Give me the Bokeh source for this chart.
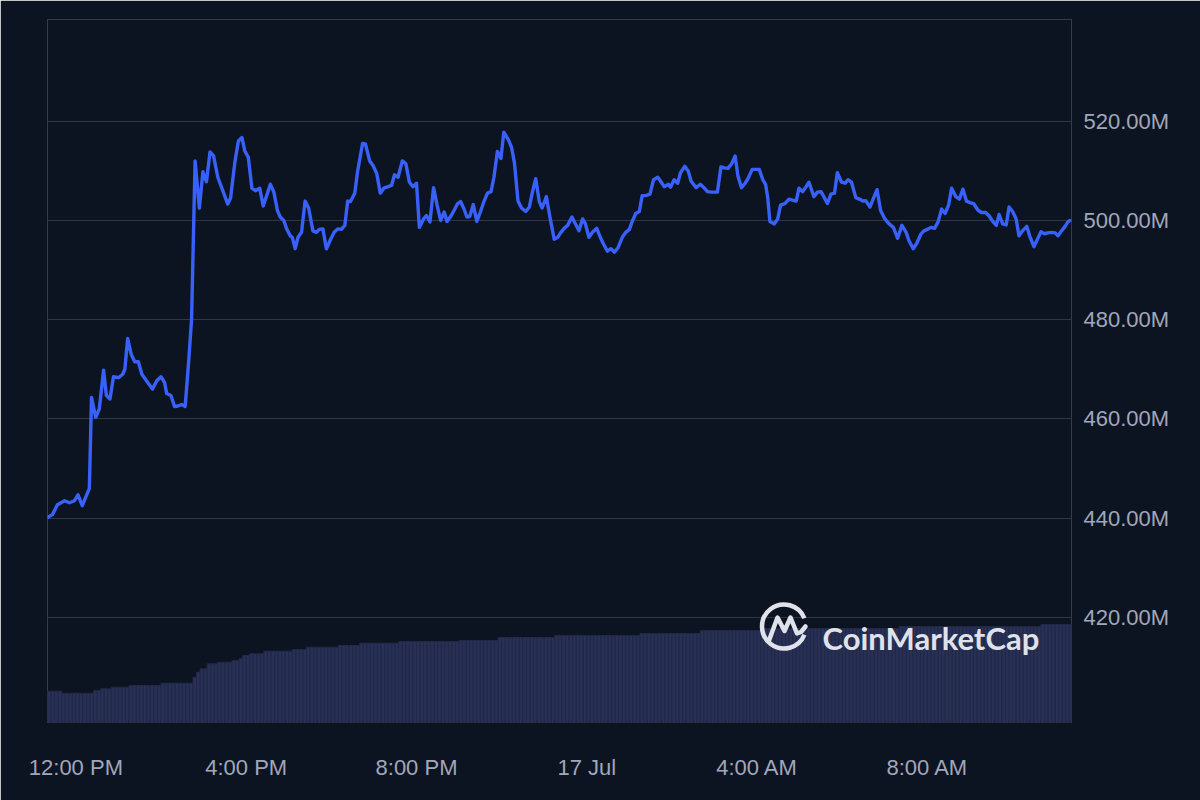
from datetime import datetime, timedelta
import math
from bokeh.plotting import figure
from bokeh.models import Range1d, FixedTicker, PrintfTickFormatter, Label
from bokeh.embed import file_html
from bokeh.resources import INLINE

# ---------------- data ----------------
START = datetime(2024, 7, 16, 11, 20)

# minutes after START, market cap in millions USD
t_min = [0, 2, 7, 14, 24, 31, 38, 43, 49, 59, 62, 68, 73, 79, 83, 88, 93, 100, 106, 109,
         113, 118, 123, 128, 133, 139, 143, 148, 154, 160, 165, 168, 174, 179, 184, 189, 194, 199, 203, 208,
         214, 219, 224, 229, 234, 240, 247, 254, 258, 264, 269, 274, 278, 283, 288, 293,
         299, 304, 310, 314, 319, 324, 328, 333, 337, 342, 345, 349, 353, 358, 363, 368, 374, 379, 383, 388,
         393, 399, 404, 409, 414, 419, 423, 427, 433, 437, 444, 448, 454, 459, 464, 469, 474, 480, 485, 489,
         494, 500, 505, 510, 515, 520, 524, 530, 534, 539, 544, 549, 554, 559, 563, 569, 574, 578, 582,
         587, 591, 595, 600, 605, 610, 615, 620, 625, 629, 634, 639, 643, 649, 654, 658, 663, 668, 674, 679,
         683, 688, 693, 697, 703, 708, 714, 719, 723, 728, 733, 739, 744, 749, 754, 758, 763, 768, 774, 779,
         783, 789, 794, 799, 804, 810, 815, 820, 824, 829, 834, 838, 843, 849, 854, 860, 864, 869, 875, 878,
         883, 888, 892, 898, 903, 907, 914, 920, 925, 930, 936, 944, 949, 954, 959, 964, 969, 973, 978, 983,
         987, 993, 998, 1003, 1008, 1012, 1015, 1018, 1024, 1029, 1033, 1039, 1045, 1050, 1055, 1059, 1064,
         1069, 1073, 1080, 1085, 1090, 1094, 1099, 1104, 1109, 1113, 1119, 1124, 1128, 1133, 1139, 1144,
         1149, 1153, 1159, 1164, 1169, 1174,
         1180, 1186, 1192, 1198, 1204, 1210, 1214, 1220, 1225, 1231, 1235, 1240, 1245, 1250, 1255, 1260,
         1265, 1270, 1274, 1280, 1285, 1290, 1295, 1300, 1305, 1311, 1316, 1322, 1327, 1332, 1337, 1341,
         1346, 1351, 1355, 1360, 1365, 1369, 1374, 1380, 1384, 1390, 1395, 1400, 1405, 1409, 1415, 1420,
         1424, 1429, 1434, 1438, 1441]

price_m = [440.1, 440.3, 440.7, 442.7, 443.5, 443.1, 443.5, 444.7, 442.5, 446.0, 464.3, 460.3, 462.0, 469.8,
           464.7, 464.0, 468.5, 468.3, 469.0, 470.0,
           476.2, 473.0, 471.5, 471.5, 469.0, 467.8, 467.0, 466.0, 467.7, 468.5, 467.3, 465.1, 464.7, 462.5,
           462.6, 462.9, 462.5, 471.7, 480.0, 512.0,
           502.5, 509.8, 507.8, 513.8, 513.0, 508.7, 506.0, 503.3, 504.5, 511.7, 516.0, 516.7, 514.0, 512.7,
           506.5, 506.0,
           506.5, 502.9, 505.5, 507.3, 505.7, 502.0, 500.7, 500.0, 498.3, 496.9, 496.6, 494.3, 496.6, 497.6,
           503.9, 502.5, 497.9, 497.6, 498.2, 498.3,
           494.3, 496.2, 497.6, 498.3, 498.2, 499.0, 503.9, 503.8, 505.5, 509.9, 515.5, 515.4, 512.0, 511.0,
           509.4, 505.5, 506.5, 506.8, 507.1, 509.2,
           508.7, 512.0, 511.4, 507.7, 506.8, 507.5, 498.6, 500.3, 501.0, 499.7, 506.6, 503.1, 500.0, 501.7,
           499.8, 501.0, 502.3, 503.4, 503.8,
           502.3, 500.7, 500.8, 503.2, 499.8, 501.7, 503.8, 505.5, 505.8, 508.6, 513.9, 512.5, 517.8, 516.4,
           514.7, 511.6, 503.9, 502.5, 501.8, 502.7,
           505.5, 508.4, 503.8, 502.5, 504.8, 500.7, 496.2, 496.6, 497.5, 498.4, 499.0, 500.7, 499.3, 497.9,
           500.3, 499.3, 496.6, 497.6, 498.4, 496.6,
           495.4, 493.8, 494.3, 493.6, 494.5, 496.6, 497.6, 498.2, 499.8, 501.4, 501.8, 505.0, 505.0, 505.3,
           508.2, 508.7, 507.9, 506.8, 507.3, 506.7,
           508.2, 507.5, 509.6, 510.9, 509.9, 507.9, 506.6, 507.3, 506.6, 505.8, 505.7, 505.7, 510.8, 510.6,
           510.5, 511.4, 513.0, 508.9, 506.6, 507.5,
           508.4, 510.3, 510.3, 510.3, 508.2, 507.2, 504.5, 499.8, 499.3, 500.3, 503.1, 503.4, 504.3, 504.1,
           503.9, 506.5, 505.8,
           506.8, 507.7, 504.8, 505.7, 505.8, 504.8, 503.4, 505.3, 505.5, 509.6, 507.7, 507.5, 508.2, 507.7,
           504.6, 504.3,
           503.9, 504.0, 502.7, 504.5, 506.2, 502.0,
           500.3, 499.3, 498.6, 496.4, 499.0, 497.6, 495.9, 494.3, 495.4, 497.3, 497.9, 498.2, 498.6, 498.4,
           499.7, 502.3,
           501.4, 503.2, 506.5, 504.8, 504.3, 506.3, 503.9, 503.6, 503.4, 502.1, 501.6, 501.6, 500.9, 499.8,
           499.0, 501.2,
           499.3, 499.1, 502.7, 501.8, 500.3, 496.9, 497.9, 498.8, 496.9, 494.7, 496.2, 497.7, 497.3, 497.5,
           497.6, 497.5,
           496.9, 497.9, 498.8, 499.7, 500.0]

# volume (millions USD) per 5-minute bar, run-length encoded: level, number of bars
vol_levels = [31.3, 29.3, 32.0, 33.7, 35.3, 37.0, 39.3, 45.3, 50.3, 53.7, 58.7, 60.3, 62.0, 63.7, 67.0,
              68.7, 71.3, 73.0, 75.3, 77.0, 79.3, 81.0, 82.0, 85.0, 87.0, 89.0, 92.0, 94.0, 96.0, 98.0]
vol_runs = [4, 9, 2, 3, 5, 9, 9, 1, 1, 2, 3, 4, 2, 1, 2,
            4, 8, 4, 9, 6, 11, 17, 11, 16, 24, 17, 17, 39, 40, 9]
BAR_MIN = 5

x_tick_times = ["2024-07-16 12:00", "2024-07-16 16:00", "2024-07-16 20:00",
                "2024-07-17 00:00", "2024-07-17 04:00", "2024-07-17 08:00"]
x_tick_labels = ["12:00 PM", "4:00 PM", "8:00 PM", "17 Jul", "4:00 AM", "8:00 AM"]
y_ticks = [420, 440, 460, 480, 500, 520]

# ---------------- helpers ----------------
EPOCH = datetime(1970, 1, 1)


def to_ms(dt):
    return (dt - EPOCH).total_seconds() * 1000.0


start_ms = to_ms(START)
times = [START + timedelta(minutes=m) for m in t_min]

vol_values = []
for lvl, n in zip(vol_levels, vol_runs):
    vol_values.extend([lvl] * n)
vol_times = [START + timedelta(minutes=BAR_MIN * i + BAR_MIN / 2) for i in range(len(vol_values))]

X0, X1 = start_ms, start_ms + 1443 * 60000
Y0, Y1 = 398.8, 540.5

BG = "#0d1421"
GRID = "#323546"
TXT = "#a1a7bb"
BLUE = "#3861fb"

p = figure(width=1200, height=800, x_axis_type="datetime", y_axis_location="right",
           x_range=Range1d(X0, X1), y_range=Range1d(Y0, Y1),
           output_backend="svg", toolbar_location=None,
           min_border_left=47, min_border_right=129, min_border_top=19, min_border_bottom=78)
p.background_fill_color = BG
p.border_fill_color = BG
p.outline_line_color = "#363a4a"
p.outline_line_width = 1

p.extra_y_ranges = {"vol": Range1d(0, 703)}

# volume bars
p.vbar(x=vol_times, top=vol_values, bottom=0, width=BAR_MIN * 60000, y_range_name="vol",
       fill_color="#283056", line_color="#222947", line_width=1)

# price line
p.line(times, price_m, line_color=BLUE, line_width=3.4, line_join="round", line_cap="round")

# axes
p.xgrid.grid_line_color = None
p.ygrid.grid_line_color = GRID
p.ygrid.grid_line_width = 1

ya = p.yaxis[0]
ya.ticker = FixedTicker(ticks=y_ticks)
ya.formatter = PrintfTickFormatter(format="%.2fM")
ya.axis_line_color = None
ya.major_tick_line_color = None
ya.minor_tick_line_color = None
ya.major_label_standoff = 6
ya.major_label_text_font = "Liberation Sans"
ya.major_label_text_font_size = "22px"
ya.major_label_text_color = TXT

tick_ms = [to_ms(datetime.strptime(s, "%Y-%m-%d %H:%M")) for s in x_tick_times]
xa = p.xaxis[0]
xa.ticker = FixedTicker(ticks=tick_ms)
xa.major_label_overrides = {int(t): lab for t, lab in zip(tick_ms, x_tick_labels)}
xa.axis_line_color = None
xa.major_tick_line_color = None
xa.minor_tick_line_color = None
xa.major_label_standoff = 26
xa.major_label_text_font = "Liberation Sans"
xa.major_label_text_font_size = "22px"
xa.major_label_text_color = TXT

# ---------------- watermark (decoration, placed in frame pixels) ----------------
FW, FH = 1024, 703


def fx(px):
    return X0 + (px - 47) / FW * (X1 - X0)


def fy(py):
    return Y1 - (py - 19) / FH * (Y1 - Y0)


LOGO = "#dfe2ea"
p.arc(x=[fx(783.5)], y=[fy(626)], radius=22, radius_units="screen",
      start_angle=math.radians(22), end_angle=math.radians(338), direction="anticlock",
      line_color=LOGO, line_width=4.5)
mx = [768.5, 777, 784, 790, 796.5, 800.5, 805]
my = [640, 617, 630.5, 617, 633, 631.5, 626]
p.line([fx(v) for v in mx], [fy(v) for v in my], line_color=LOGO, line_width=4.5,
       line_join="round", line_cap="round")
p.add_layout(Label(x=fx(822), y=fy(637), text="CoinMarketCap", text_font="Lato",
                   text_font_style="bold", text_font_size="31px", text_color=LOGO,
                   text_baseline="alphabetic", text_align="left"))

open("out.html", "w").write(file_html(p, INLINE))
